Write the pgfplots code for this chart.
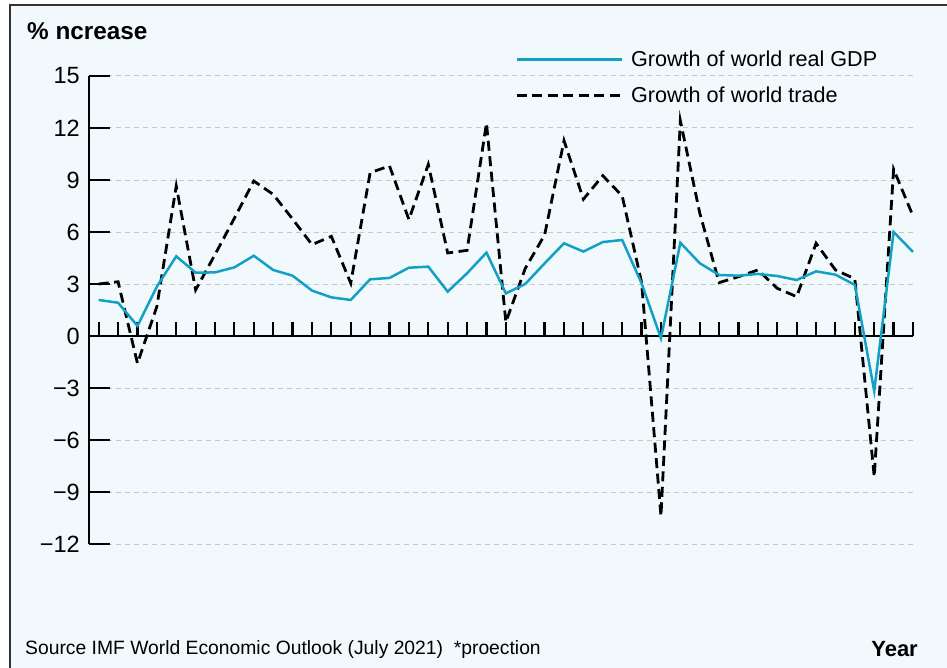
\documentclass[border=0pt]{standalone}
\usepackage{fontspec}
\setmainfont{Liberation Sans}
\usepackage{pgfplots}
\pgfplotsset{compat=1.18}
\definecolor{bgc}{RGB}{242,249,252}
\definecolor{gdpc}{RGB}{18,160,196}
\definecolor{gridc}{RGB}{200,200,200}
\pgfplotstableread{
year gdp trade
1980 2.08 3.0
1981 1.92 3.13
1982 0.58 -1.58
1983 2.85 1.7
1984 4.60 8.65
1985 3.65 2.66
1986 3.67 4.7
1987 3.96 6.8
1988 4.63 8.94
1989 3.81 8.17
1990 3.48 6.75
1991 2.62 5.27
1992 2.23 5.75
1993 2.08 3.05
1994 3.27 9.42
1995 3.35 9.81
1996 3.94 6.72
1997 4.00 9.9
1998 2.56 4.79
1999 3.62 4.94
2000 4.81 12.28
2001 2.46 0.8
2002 3.00 3.9
2003 4.19 5.83
2004 5.35 11.27
2005 4.87 7.89
2006 5.42 9.25
2007 5.54 8.08
2008 3.04 3.1
2009 -0.13 -10.39
2010 5.38 12.42
2011 4.20 7.1
2012 3.52 3.08
2013 3.48 3.42
2014 3.58 3.81
2015 3.46 2.75
2016 3.23 2.27
2017 3.73 5.35
2018 3.54 3.81
2019 2.95 3.3
2020 -3.17 -8.12
2021 6.00 9.62
2022 4.85 6.92
}\datatable
\begin{document}
\begin{tikzpicture}
\path[use as bounding box] (0pt,0pt) rectangle (947pt,-668pt);
\fill[bgc] (10pt,-5pt) rectangle (947pt,-668pt);
\draw[line width=1.5pt, black!80] (10pt,-668pt) -- (10pt,-5pt) -- (947pt,-5pt);
\node[anchor=base west, inner sep=0pt, font=\fontsize{24.3}{28}\selectfont\bfseries] at (27pt,-40pt) {\% ncrease};
\node[anchor=base west, inner sep=0pt, font=\fontsize{19.3}{23}\selectfont] at (25pt,-654pt) {Source IMF World Economic Outlook (July 2021)\ \ *proection};
\node[anchor=base east, inner sep=0pt, font=\fontsize{22}{26}\selectfont\bfseries] at (918pt,-656pt) {Year};
\begin{axis}[
  at={(89pt,-544pt)}, anchor=south west,
  scale only axis, width=824pt, height=468pt,
  xmin=1979.5, xmax=2022, ymin=-12, ymax=15,
  axis y line=left, axis x line=middle,
  axis line style={-, line width=2.2pt, black},
  xtick={1980,...,2022}, xticklabels={},
  ytick={-12,-9,...,15},
  yticklabels={−12,−9,−6,−3,0,3,6,9,12,15},
  tick align=inside,
  xtick style={line width=2.2pt, black, /pgfplots/major tick length=14pt},
  ytick style={line width=2.2pt, black, /pgfplots/major tick length=21pt},
  yticklabel style={font=\fontsize{23.5}{28}\selectfont, inner sep=0pt, anchor=east, xshift=-9pt},
  ymajorgrids, grid style={gridc, line width=1pt, dash pattern=on 5pt off 4pt},
  clip=false,
  reverse legend,
  legend style={draw=none, fill=none, at={(0.5135,1.058)}, anchor=north west,
    font=\fontsize{21.6}{26}\selectfont, row sep=19pt, column sep=8pt,
    nodes={inner sep=0pt}},
  legend cell align=left,
  legend image code/.code={\draw[#1] (0pt,0pt) -- (105pt,0pt);},
]
\addplot[black, line width=2.8pt, dash pattern=on 10pt off 5.5pt] table[x=year, y=trade] {\datatable};
\addlegendentry{Growth of world trade}
\addplot[gdpc, line width=2.5pt] table[x=year, y=gdp] {\datatable};
\addlegendentry{Growth of world real GDP}
\end{axis}
\end{tikzpicture}
\end{document}
